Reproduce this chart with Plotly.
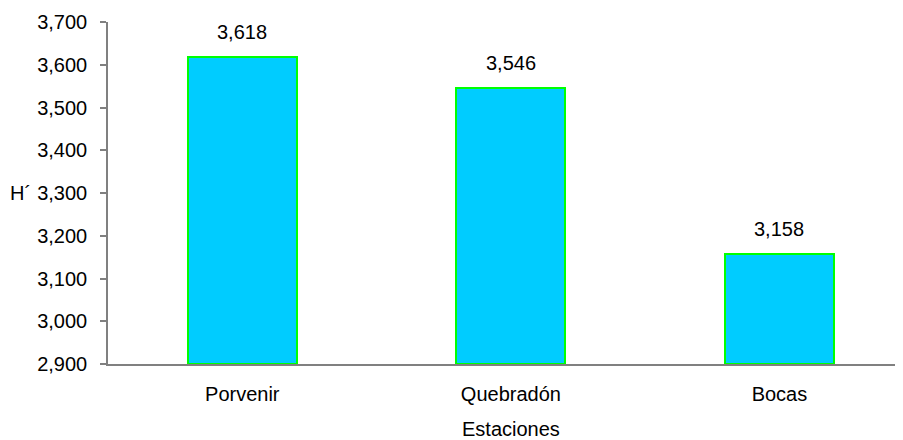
import plotly.graph_objects as go

categories = ["Porvenir", "Quebradón", "Bocas"]
values = [3.618, 3.546, 3.158]
y_title = "H´"
x_title = "Estaciones"

FONT = "Liberation Sans, Arial, sans-serif"
AXIS_COLOR = "#808080"

fig = go.Figure()
fig.add_trace(go.Bar(
    x=list(range(len(categories))),
    y=[v - 2.9 for v in values],
    base=2.9,
    width=0.406,
    marker=dict(color="#00CCFF", line=dict(color="#00FF00", width=2)),
    hoverinfo="skip",
))

for i, v in enumerate(values):
    fig.add_annotation(
        x=i, y=v, xref="x", yref="y",
        text=f"{v:.3f}".replace(".", ","),
        showarrow=False, yanchor="middle", yshift=25,
        font=dict(family=FONT, size=20, color="black"),
    )

fig.add_annotation(
    x=0, y=3.3, xref="paper", yref="y",
    text=y_title, showarrow=False, xanchor="right", yanchor="middle",
    xshift=-75, font=dict(family=FONT, size=20, color="black"),
)
fig.add_annotation(
    x=1, y=0, xref="x", yref="paper",
    text=x_title, showarrow=False, xanchor="center", yanchor="middle",
    yshift=-65, font=dict(family=FONT, size=20, color="black"),
)

fig.update_layout(
    width=895, height=432,
    margin=dict(l=100, r=0, t=14, b=76),
    paper_bgcolor="white", plot_bgcolor="white",
    separators=",.",
    showlegend=False,
    font=dict(family=FONT, size=20, color="black"),
    bargap=0,
)
fig.update_xaxes(
    range=[-0.5, 2.46],
    tickmode="array",
    tickvals=list(range(len(categories))),
    ticktext=categories,
    showline=True, linecolor=AXIS_COLOR, linewidth=1.5,
    ticks="", showgrid=False, zeroline=False,
    ticklabelstandoff=11,
    tickfont=dict(family=FONT, size=20, color="black"),
)
fig.update_yaxes(
    range=[2.9, 3.7], dtick=0.1, tick0=2.9,
    tickformat=".3f",
    showline=True, linecolor=AXIS_COLOR, linewidth=1.5,
    ticks="outside", ticklen=6, tickcolor=AXIS_COLOR, tickwidth=1.5,
    showgrid=False, zeroline=False,
    ticklabelstandoff=9,
    tickfont=dict(family=FONT, size=20, color="black"),
)

fig.write_html("out.html")
